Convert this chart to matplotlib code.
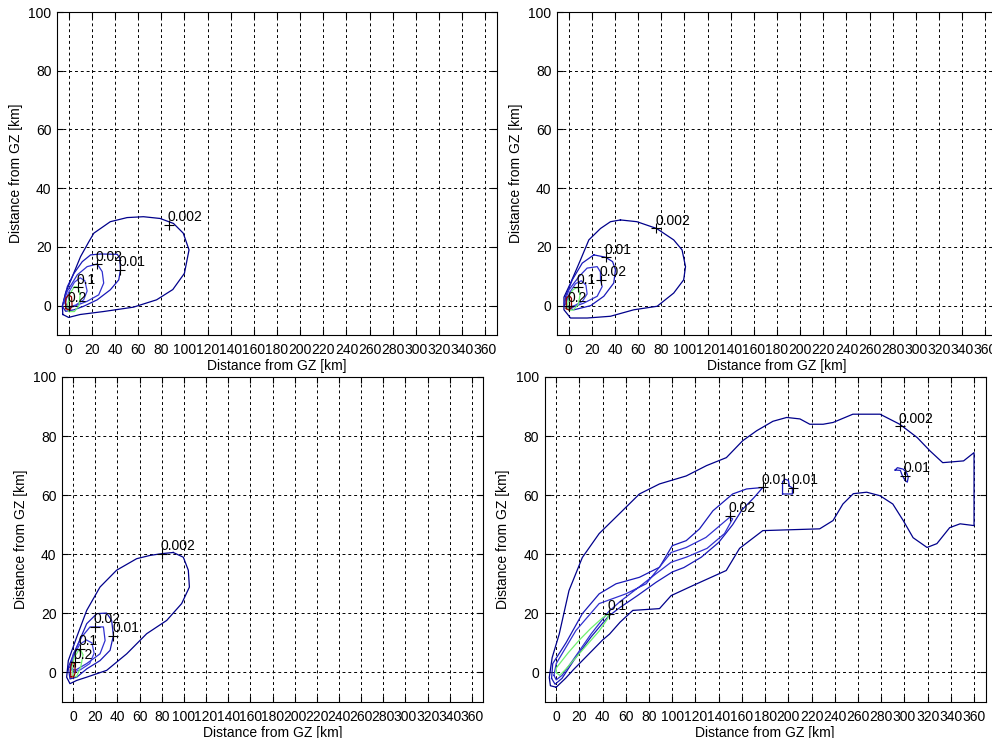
import matplotlib.pyplot as plt
import numpy as np

plt.rcParams['font.family'] = ['Liberation Sans', 'DejaVu Sans']
plt.rcParams['font.size'] = 10

# contour levels and their colours (jet-like, as the original)
levels = [0.002, 0.01, 0.02, 0.05, 0.1, 0.2]
level_colors = {0.002: '#00008b', 0.01: '#1818b8', 0.02: '#3030d0',
                0.05: '#4040e0', 0.1: '#70f070', 0.2: '#8b0000'}

x_ticks = list(range(0, 361, 20))
y_ticks = list(range(0, 101, 20))

# ---- top left ----
tl_c002 = [(-5, -3), (0, -4), (10, -3), (30, -2), (56, -0.5), (76, 2), (90, 5.5), (100, 11), (104, 19),
           (99, 24.7), (90.6, 28), (79, 29.7), (64.6, 30.3), (50.5, 30), (36, 28.6), (21.8, 24.7),
           (17.5, 21.8), (10.3, 16.7), (3.2, 9.9), (-2.6, 4.4), (-5.4, -0.2)]
tl_c01 = [(-5.4, -0.2), (-1.1, 6.5), (4.6, 11), (11.8, 15), (19, 17.3), (27.6, 17.6), (42, 17.5),
          (44.2, 16.2), (44.8, 12.2), (43.3, 8.8), (36, 5.4), (24.7, 2), (13, -0.2), (4.6, -1.4), (-2.6, -1.9)]
tl_c02 = [(-4, 1.5), (-1.1, 5), (7.5, 10.5), (16, 13.3), (24.7, 14.2), (29, 11.6), (30.3, 7.7),
          (26, 3.7), (16, 1.5), (6, 0), (-1.1, -1)]
tl_c05 = [(-3, 1), (0, 4.5), (5, 8), (10, 9.5), (14, 8.5), (16, 5), (13, 2), (6, 0.2), (0, -0.5)]
tl_c1 = [(-1, 0), (1, 4), (5, 6.5), (8, 6.3), (10, 4), (9, 0), (5, -2), (0, -2)]
tl_c2 = [(-2.5, -1), (-2.5, 2.5), (0, 3.7), (2.5, 3), (3, 0), (1, -1.5)]
tl_labels = [('0.002', 87, 27.5), ('0.02', 24.7, 14.2), ('0.01', 44, 12.2), ('0.1', 8, 6.3), ('0.2', 0.3, 0)]

# ---- top right ----
tr_c002 = [(44.8, 29.2), (59, 28.6), (76, 26.3), (90.8, 22.4), (98, 19), (101, 13.3), (99.4, 8.8),
           (90.8, 4.3), (76.5, -0.2), (56.3, -1.4), (36.2, -3.6), (16, -4.2), (1.7, -4.2), (-4, -1.4),
           (-4, 2.9), (1.7, 7.7), (10.3, 15.6), (17.5, 22.4), (27.6, 26.3), (36.2, 28.6)]
tr_c01 = [(21.8, 17.3), (31.9, 16.5), (38, 15), (40.5, 12.2), (39, 7.7), (30.4, 3.2), (19, 0),
          (4.6, -1.4), (-3.7, -0.2), (-2.6, 3.2), (3.2, 8.8), (11.8, 14.5)]
tr_c02 = [(-3.7, 0.9), (0.3, 5.4), (8.9, 9.9), (16, 12.8), (24.7, 13.3), (27.5, 11.5), (27.6, 8.8),
          (29, 6.5), (24.7, 3.2), (13.2, 0.9), (1.7, -0.8)]
tr_c05 = [(-2, 1), (1, 4.5), (6, 7.5), (11, 8.5), (15, 7), (16, 4), (12, 1.5), (5, 0), (0, -0.5)]
tr_c1 = [(-1, 0), (0.5, 3.5), (4, 5.5), (8, 6.3), (10, 4), (8.5, 0.5), (4, -1.5), (0, -1.5)]
tr_c2 = [(-2, -1), (-2, 2.5), (0.5, 3.5), (2.5, 2.5), (2.5, -0.5), (0.5, -1.5)]
tr_labels = [('0.002', 75.9, 26.3), ('0.01', 31.9, 16.5), ('0.02', 27.6, 8.8), ('0.1', 8, 6.3), ('0.2', 0, 0)]

# ---- bottom left ----
bl_c002 = [(90.4, 40.6), (99.5, 39), (104, 34.6), (105, 28.9), (98, 23.3), (84.5, 17.6), (66.4, 13.1),
           (48.4, 6.3), (30.3, 0.7), (12.3, -1.6), (3.3, -2.7), (-2.8, -3.8), (-5.8, -1.6), (-4.3, 4),
           (3.3, 12), (12.3, 21), (24.3, 28.9), (39.3, 34.6), (57.4, 38.5), (69.4, 39.6), (80, 40.2)]
bl_c01 = [(-4.3, 1.8), (3.3, 8.6), (12.3, 16.5), (21.4, 19.9), (30.3, 20.1), (34.8, 17.6), (36.4, 12.5),
          (33.4, 7.5), (24.3, 4), (12.3, 1.2), (3.3, -1.6), (-2.8, -2.2)]
bl_c02 = [(-2.8, 1.8), (0.2, 6.3), (7.8, 12), (15.3, 15.4), (19.8, 15.4), (27.4, 15.4), (28.9, 10.8),
          (24.3, 6.3), (12.3, 3), (1.8, 0.7)]
bl_c05 = [(-2, 1.5), (1, 6), (6, 9.5), (12, 11), (17, 10), (19, 6.5), (15, 3), (7, 1), (0, 0)]
bl_c1 = [(0, -1), (-1, 2), (1, 5), (5, 7.5), (6.3, 8), (9, 6), (7, 2), (3, -1.5)]
bl_c2 = [(-2, -1.5), (-2.5, 1.5), (-1, 3.5), (1.5, 3), (2, 0), (0.5, -1.5)]
bl_labels = [('0.002', 80, 40.2), ('0.02', 19.8, 15.4), ('0.01', 36.4, 12.5), ('0.1', 6.3, 8), ('0.2', 1.7, 3.5)]

# ---- bottom right ----
br_c002 = [(0, -5), (8, -2), (15, 1), (20, 3), (30, 7), (40, 11), (46, 13), (55, 17), (66, 21), (89, 21.6),
           (99, 26), (117.7, 29.4), (146.5, 34.5), (158, 42), (178, 48), (227, 48.6), (238.5, 51.4),
           (247, 57), (256, 60.5), (267.5, 61), (279, 59.8), (290, 57), (299, 51.4), (307.5, 45.6),
           (319.5, 42.3), (328, 43.6), (339, 49), (348, 50.3), (360, 49.7), (360, 74.4), (351, 71.6),
           (333, 71), (322, 75), (311, 79.5), (296, 84), (279, 87.4), (255.6, 87.4), (238.5, 84.6),
           (230, 84), (218.5, 84), (210, 85.8), (198.6, 86.3), (186.7, 85), (172.7, 81.8), (160.6, 78.4),
           (146.6, 72.7), (129.5, 70), (112, 66.5), (89, 63.8), (71.7, 60.4), (54.4, 53.7), (37, 47),
           (22.5, 38.9), (11, 27.7), (2.6, 13), (-3.5, 5), (-6, -1.7), (-5, -4.5)]
br_c01 = [(-4, -2), (-3, 3), (8.4, 10), (22.5, 19.9), (37, 26.6), (51.5, 30), (71.7, 32.2), (89, 35.6),
          (100, 42.9), (112, 44.6), (123.5, 48.6), (135, 54.7), (152, 60.4), (164, 62.1), (178, 62.6),
          (170, 59), (160, 55), (152, 50), (140, 44), (125, 39), (110, 35.5), (100, 34), (86, 30.5),
          (70, 26), (55, 22), (45, 19), (30, 12), (15, 4), (5, -2), (-1, -4)]
br_c01b = [(195, 60.4), (195, 64.5), (197, 65.4), (200, 65), (201, 63), (203.5, 62.5), (203.5, 60.4)]
br_c01c = [(292, 68.5), (296.5, 68.4), (298, 66.8), (300.5, 65), (302.5, 64.4), (303.3, 66),
           (302, 67.5), (299, 68.8), (294, 69.3)]
br_c02 = [(-2, -1), (0, 3), (17, 14.2), (37, 23.3), (60, 26.6), (77.5, 30), (99, 40.6), (112, 42.3),
          (129, 45.7), (149.4, 52.5), (152, 52), (145, 47), (130, 42), (112, 39), (99, 37.3), (86, 33.4),
          (70, 28.5), (55, 24), (45, 20.5), (30, 13), (15, 4.5), (5, -1), (0, -2.5)]
br_c1 = [(0, 0), (0, 1.5), (10, 6.5), (20, 11), (30, 15), (40, 18.5), (45.8, 20), (44, 18), (37, 14),
         (28, 10), (18, 5.5), (8, 1), (3, -1)]
br_labels = [('0.002', 296, 83.4), ('0.01', 178, 62.6), ('0.01', 204, 62.5), ('0.01', 300.5, 66.6),
             ('0.02', 149.5, 53), ('0.1', 45.8, 19.9)]

panels = [
    ([0.0575, 0.546, 0.4435, 0.4377],
     [(0.002, tl_c002), (0.01, tl_c01), (0.02, tl_c02), (0.05, tl_c05), (0.1, tl_c1), (0.2, tl_c2)], tl_labels),
    ([0.5615, 0.546, 0.4435, 0.4377],
     [(0.002, tr_c002), (0.01, tr_c01), (0.02, tr_c02), (0.05, tr_c05), (0.1, tr_c1), (0.2, tr_c2)], tr_labels),
    ([0.0625, 0.0488, 0.4244, 0.4404],
     [(0.002, bl_c002), (0.01, bl_c01), (0.02, bl_c02), (0.05, bl_c05), (0.1, bl_c1), (0.2, bl_c2)], bl_labels),
    ([0.549, 0.0488, 0.4446, 0.4404],
     [(0.002, br_c002), (0.01, br_c01), (0.01, br_c01b), (0.01, br_c01c), (0.02, br_c02), (0.1, br_c1)], br_labels),
]

fig = plt.figure(figsize=(9.92, 7.38), dpi=100)

for rect, lines, labels in panels:
    ax = fig.add_axes(rect)
    for lev, pts in lines:
        pts = np.array(pts + [pts[0]])
        ax.plot(pts[:, 0], pts[:, 1], color=level_colors[lev], lw=0.9)
    for txt, lx, ly in labels:
        ax.plot(lx, ly, '+', color='k', ms=7, mew=0.8)
        ax.annotate(txt, (lx, ly), xytext=(-1, 2.5), textcoords='offset points',
                    ha='left', va='baseline', fontsize=10)
    ax.set_xlim(-10, 370)
    ax.set_ylim(-10, 100)
    ax.set_xticks(x_ticks)
    ax.set_yticks(y_ticks)
    ax.grid(True, color='k', ls=(0, (3, 3)), lw=0.7)
    ax.tick_params(direction='in', top=True, right=True, length=4)
    ax.tick_params(axis='x', pad=6)
    ax.tick_params(axis='y', pad=4)
    ax.set_xlabel('Distance from GZ [km]', labelpad=1)
    ax.set_ylabel('Distance from GZ [km]', labelpad=4)

fig.savefig('out.png', dpi=100)
